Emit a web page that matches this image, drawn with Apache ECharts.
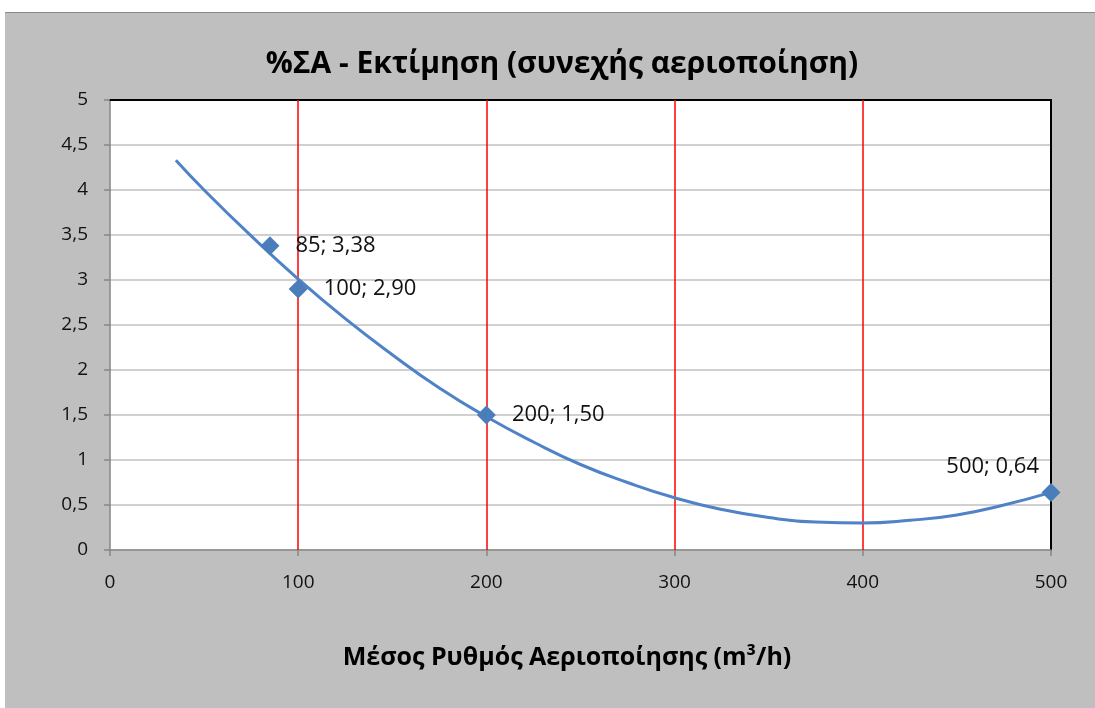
<!DOCTYPE html>
<html>
<head>
<meta charset="utf-8">
<script src="https://cdn.jsdelivr.net/npm/echarts@6/dist/echarts.min.js"></script>
<style>
  html, body { margin: 0; padding: 0; background: #ffffff; }
  #chart { position: absolute; left: 5px; top: 12px; width: 1090px; height: 696px;
           background: #bfbfbf; border-top: 1px solid #8a8a8a; box-sizing: border-box; }
</style>
</head>
<body>
<div id="chart"></div>
<script>
// Measured points (x: m3/h, y: %ΣΑ)
const pointX = [85, 100, 200, 500];
const pointY = [3.38, 2.90, 1.50, 0.64];

// Trendline
const trendX = [35, 50, 75, 100, 125, 150, 175, 200, 225, 250, 275, 300, 325, 350, 375, 400, 425, 450, 475, 500];
const trendY = [4.33, 4.00, 3.49, 3.01, 2.57, 2.17, 1.80, 1.48, 1.20, 0.95, 0.75, 0.58, 0.45, 0.36, 0.31, 0.30, 0.33, 0.39, 0.50, 0.64];

// Red vertical reference lines
const redLinesX = [100, 200, 300, 400];

const titleText = '%ΣΑ - Εκτίμηση (συνεχής αεριοποίηση)';
const xTitle = 'Μέσος Ρυθμός Αεριοποίησης (m³/h)';

const FONT = '"Open Sans", "Noto Sans", sans-serif';
const comma = v => String(v).replace('.', ',');

const chart = echarts.init(document.getElementById('chart'), null, { renderer: 'canvas' });

const pointData = pointX.map((x, i) => {
  const item = { value: [x, pointY[i]] };
  if (x === 500) {
    item.label = { position: 'top', align: 'right', offset: [-12, 11] };
  }
  return item;
});

chart.setOption({
  animation: false,
  title: {
    text: titleText,
    left: 552, top: 31, textAlign: 'center',
    textStyle: { fontFamily: FONT, fontSize: 30, fontWeight: 'bold', color: '#000' }
  },
  grid: { left: 105, right: 44, top: 87, bottom: 158, containLabel: false,
          show: true, backgroundColor: '#ffffff', borderWidth: 0 },
  xAxis: [{
    type: 'value', min: 0, max: 500, interval: 100,
    axisLine: { show: true, onZero: false, lineStyle: { color: '#868686', width: 1.5 } },
    axisTick: { show: true, length: 6, lineStyle: { color: '#868686', width: 1.5 } },
    axisLabel: { color: '#111', fontFamily: FONT, fontSize: 19, margin: 23 },
    splitLine: { show: false }
  }, {
    type: 'value', position: 'top', min: 0, max: 500, interval: 100,
    axisLine: { show: true, onZero: false, lineStyle: { color: '#000', width: 2 } },
    axisTick: { show: false }, axisLabel: { show: false }, splitLine: { show: false }
  }],
  yAxis: [{
    type: 'value', min: 0, max: 5, interval: 0.5,
    axisLine: { show: true, onZero: false, lineStyle: { color: '#868686', width: 1.5 } },
    axisTick: { show: true, length: 6, lineStyle: { color: '#868686', width: 1.5 } },
    axisLabel: { color: '#111', fontFamily: FONT, fontSize: 19, margin: 22, formatter: comma },
    splitLine: { show: true, lineStyle: { color: '#c0c0c0', width: 1.5 } }
  }, {
    type: 'value', position: 'right', min: 0, max: 5, interval: 0.5,
    axisLine: { show: true, onZero: false, lineStyle: { color: '#000', width: 2 } },
    axisTick: { show: false }, axisLabel: { show: false }, splitLine: { show: false }
  }],
  graphic: [{
    type: 'text', x: 562, y: 645,
    style: {
      text: xTitle, fill: '#000',
      font: 'bold 25px ' + FONT, textAlign: 'center', textVerticalAlign: 'middle'
    }
  }],
  series: [{
    type: 'line', name: 'trend',
    data: trendX.map((x, i) => [x, trendY[i]]),
    smooth: true, showSymbol: false, symbol: 'none',
    lineStyle: { color: '#4f82c6', width: 3 },
    z: 3, silent: true,
    markLine: {
      silent: true, symbol: 'none', animation: false,
      label: { show: false },
      lineStyle: { color: '#ff0000', width: 1.5, type: 'solid' },
      data: redLinesX.map(v => ({ xAxis: v })),
      z: 2
    }
  }, {
    type: 'scatter', name: 'points',
    data: pointData,
    symbol: 'diamond', symbolSize: 19,
    itemStyle: { color: '#4a7ebb', opacity: 1 },
    label: {
      show: true, position: 'right', distance: 16,
      fontFamily: FONT, fontSize: 22, color: '#111',
      formatter: p => p.value[0] + '; ' + p.value[1].toFixed(2).replace('.', ',')
    },
    z: 4
  }]
});
</script>
</body>
</html>
